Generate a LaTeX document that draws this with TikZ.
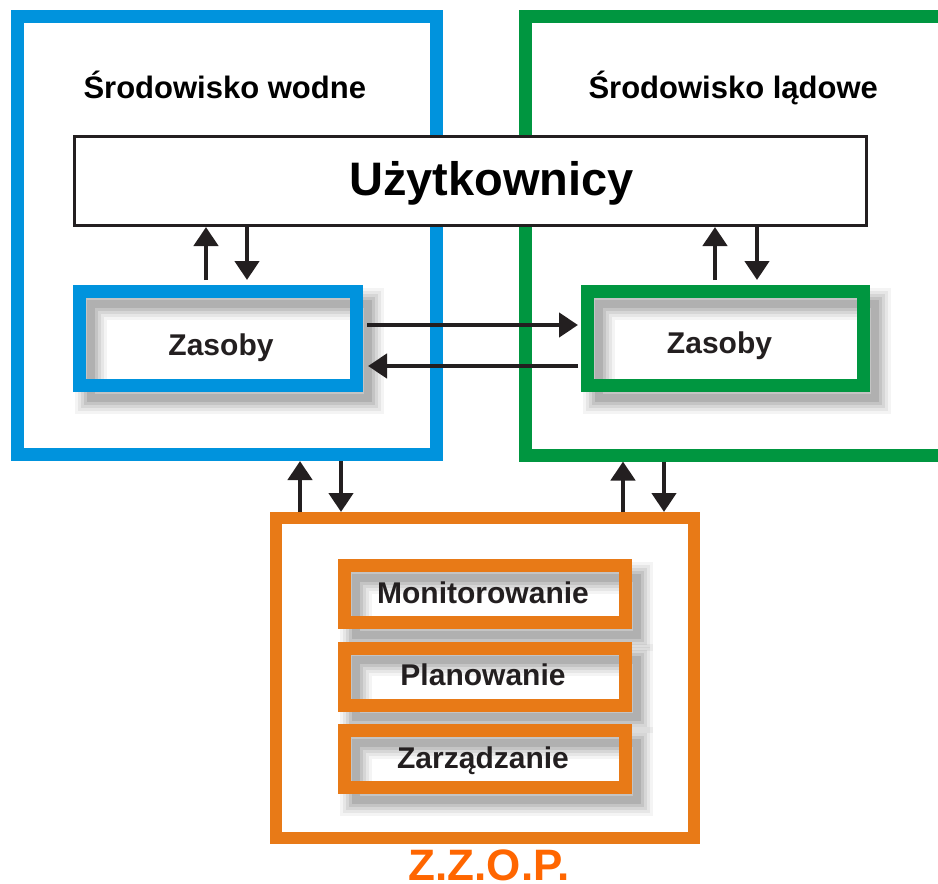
\documentclass[tikz,border=0pt]{standalone}
\usepackage{fontspec}
\setmainfont{Liberation Sans}
\usetikzlibrary{arrows.meta}

\definecolor{wodny}{HTML}{0093DD}
\definecolor{ladowy}{HTML}{009640}
\definecolor{zzop}{HTML}{E87A17}
\definecolor{zzoptxt}{HTML}{FF6600}
\definecolor{ink}{HTML}{231F20}
\definecolor{cienc}{HTML}{5E5E5E}

\tikzset{
  ramka/.style={draw=#1, line width=13pt, inner sep=0pt},
  warstwa/.style 2 args={preaction={draw=cienc, line width=#1, opacity=#2, transform canvas={xshift=11pt, yshift=-12pt}}},
  cien/.style={warstwa={32pt}{.07}, warstwa={26pt}{.09}, warstwa={20pt}{.12}, warstwa={14pt}{.15}, warstwa={8pt}{.2}},
  txt/.style={font=\bfseries\fontsize{30}{34}\selectfont, text=ink, anchor=base},
  strz/.style={-{Triangle[width=24pt, length=19pt]}, line width=4.3pt, draw=ink}
}

\begin{document}
\begin{tikzpicture}[x=1pt, y=-1pt]
\useasboundingbox (0,0) rectangle (938,884);

\node[ramka=wodny, minimum width=419pt, minimum height=438.5pt] (wodne) at (227,235.25) {};
\node[ramka=ladowy, minimum width=420pt, minimum height=439pt] (ladowe) at (735,235.5) {};
\node[font=\bfseries\fontsize{31}{36}\selectfont, anchor=base west] (wodnet) at (80,98) {Środowisko wodne};
\node[font=\bfseries\fontsize{31}{36}\selectfont, anchor=base west] (ladowet) at (585,98) {Środowisko lądowe};

\node[draw=ink, fill=white, line width=3pt, minimum width=792pt, minimum height=89pt] (uz) at (470.5,181) {};
\node[font=\bfseries\fontsize{47}{54}\selectfont, anchor=base] (uzt) at (491.5,195) {Użytkownicy};

\node[ramka=wodny, cien, minimum width=277pt, minimum height=94pt] (zw) at (218,338.5) {};
\node[txt] (zwt) at (221,355) {Zasoby};
\node[ramka=ladowy, cien, minimum width=276pt, minimum height=94pt] (zl) at (725.5,338.5) {};
\node[txt] (zlt) at (719.5,353) {Zasoby};

\node[ramka=zzop, line width=12pt, minimum width=418pt, minimum height=319.5pt] (zz) at (485,677.75) {};
\foreach \n/\t/\y in {mon/Monitorowanie/594, plan/Planowanie/676.5, zarz/Zarządzanie/759}
{
  \node[ramka=zzop, cien, minimum width=281pt, minimum height=57pt] (\n) at (485,\y) {};
  \node[txt] (\n t) at ([xshift=-2pt, yshift=-9pt]\n.center) {\t};
}
\node[font=\bfseries\fontsize{44}{50}\selectfont, text=zzoptxt, anchor=base, inner sep=1pt] (zzopt) at (489,880) {Z.Z.O.P.};

% strzalki w gore
\foreach \dx/\a/\b/\gap in {-12/zw/uz/5, -10.5/zl/uz/5, -185/zz/wodne/0, 138/zz/ladowe/0}
  \draw[strz, shorten <=\gap pt] ([xshift=\dx pt]\a.north) -- ([xshift=\dx pt]\a.north |- \b.south);
% strzalki w dol
\foreach \dx/\a/\b/\gap in {29/zw/uz/5, 31.5/zl/uz/5, -144/zz/wodne/0, 179/zz/ladowe/0}
  \draw[strz, shorten >=\gap pt] ([xshift=\dx pt]\a.north |- \b.south) -- ([xshift=\dx pt]\a.north);

\draw[strz, shorten <=4pt, shorten >=3pt] ([yshift=13.5pt]zw.east) -- ([yshift=13.5pt]zw.east -| zl.west);
\draw[strz, shorten <=3pt, shorten >=5pt] ([yshift=-27.5pt]zl.west) -- ([yshift=-27.5pt]zl.west -| zw.east);
\end{tikzpicture}
\end{document}
